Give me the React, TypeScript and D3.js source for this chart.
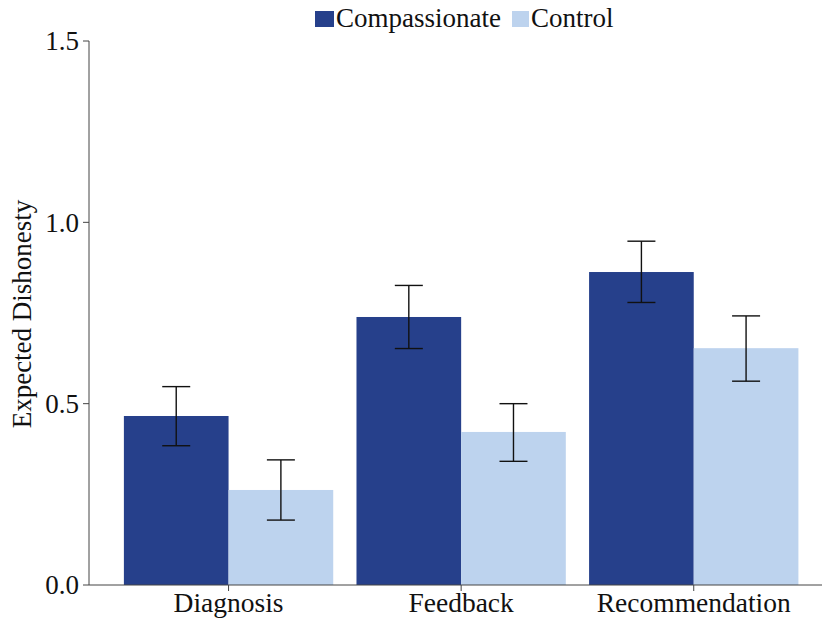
import React from "react";
import * as d3 from "d3";

const categories = ["Diagnosis", "Feedback", "Recommendation"];
const seriesNames = ["Compassionate", "Control"];
const compassionateMean = [0.466, 0.739, 0.863];
const compassionateLow = [0.384, 0.652, 0.779];
const compassionateHigh = [0.547, 0.826, 0.948];
const controlMean = [0.262, 0.422, 0.653];
const controlLow = [0.179, 0.341, 0.562];
const controlHigh = [0.345, 0.5, 0.742];
const yTicks = [0, 0.5, 1.0, 1.5];
const colors = ["#26408B", "#BDD3EE"];

const W = 822;
const H = 619;
const FONT = "Liberation Serif, Times New Roman, DejaVu Serif, serif";

export default function App() {
  const y = d3.scaleLinear().domain([0, 1.5]).range([585, 41]);
  const x = d3
    .scaleBand<string>()
    .domain(categories)
    .range([89, 833.3])
    .paddingInner(0.1)
    .paddingOuter(0.15);
  const xs = d3.scaleBand<string>().domain(seriesNames).range([0, x.bandwidth()]);

  const series = [
    { name: seriesNames[0], mean: compassionateMean, lo: compassionateLow, hi: compassionateHigh, color: colors[0] },
    { name: seriesNames[1], mean: controlMean, lo: controlLow, hi: controlHigh, color: colors[1] },
  ];
  const axisColor = "#444";
  const cap = 14;
  const ts: React.CSSProperties = { fontFamily: FONT };

  return (
    <svg
      width={W}
      height={H}
      style={{ position: "absolute", left: 0, top: 0, display: "block", background: "#fff", fontFamily: FONT }}
    >
      {series.map((s) =>
        categories.map((c, i) => {
          const bx = (x(c) ?? 0) + (xs(s.name) ?? 0);
          const bw = xs.bandwidth();
          return (
            <rect
              key={s.name + c}
              x={bx}
              y={y(s.mean[i])}
              width={bw}
              height={y(0) - y(s.mean[i])}
              fill={s.color}
            />
          );
        })
      )}
      {series.map((s) =>
        categories.map((c, i) => {
          const cx = (x(c) ?? 0) + (xs(s.name) ?? 0) + xs.bandwidth() / 2;
          return (
            <g key={"e" + s.name + c} stroke="#111" strokeWidth={1.4}>
              <line x1={cx} x2={cx} y1={y(s.hi[i])} y2={y(s.lo[i])} />
              <line x1={cx - cap} x2={cx + cap} y1={y(s.hi[i])} y2={y(s.hi[i])} />
              <line x1={cx - cap} x2={cx + cap} y1={y(s.lo[i])} y2={y(s.lo[i])} />
            </g>
          );
        })
      )}
      {/* y axis */}
      <line x1={89} x2={89} y1={y(1.5)} y2={y(0)} stroke={axisColor} strokeWidth={1} />
      {yTicks.map((t) => (
        <g key={t}>
          <line x1={83} x2={89} y1={y(t)} y2={y(t)} stroke={axisColor} strokeWidth={1} />
          <text x={79} y={y(t)} dy="0.35em" textAnchor="end" fontSize={27} fill="#111" style={ts}>
            {t.toFixed(1)}
          </text>
        </g>
      ))}
      {/* x axis */}
      <line x1={89} x2={W} y1={y(0)} y2={y(0)} stroke={axisColor} strokeWidth={1} />
      {categories.map((c) => {
        const cx = (x(c) ?? 0) + x.bandwidth() / 2;
        return (
          <g key={c}>
            <line x1={cx} x2={cx} y1={y(0)} y2={y(0) + 6} stroke={axisColor} strokeWidth={1} />
            <text x={cx} y={612} textAnchor="middle" fontSize={27.5} fill="#111" style={ts}>
              {c}
            </text>
          </g>
        );
      })}
      <text
        transform={`translate(31,${(y(0) + y(1.5)) / 2 + 1}) rotate(-90)`}
        textAnchor="middle"
        fontSize={27}
        fill="#111"
        style={ts}
      >
        Expected Dishonesty
      </text>
      {/* legend */}
      <rect x={315} y={11} width={19} height={16} fill={colors[0]} />
      <text x={336} y={27} fontSize={27} fill="#111" style={ts}>
        {seriesNames[0]}
      </text>
      <rect x={512} y={11} width={17} height={16} fill={colors[1]} />
      <text x={531} y={27} fontSize={27} fill="#111" style={ts}>
        {seriesNames[1]}
      </text>
    </svg>
  );
}
